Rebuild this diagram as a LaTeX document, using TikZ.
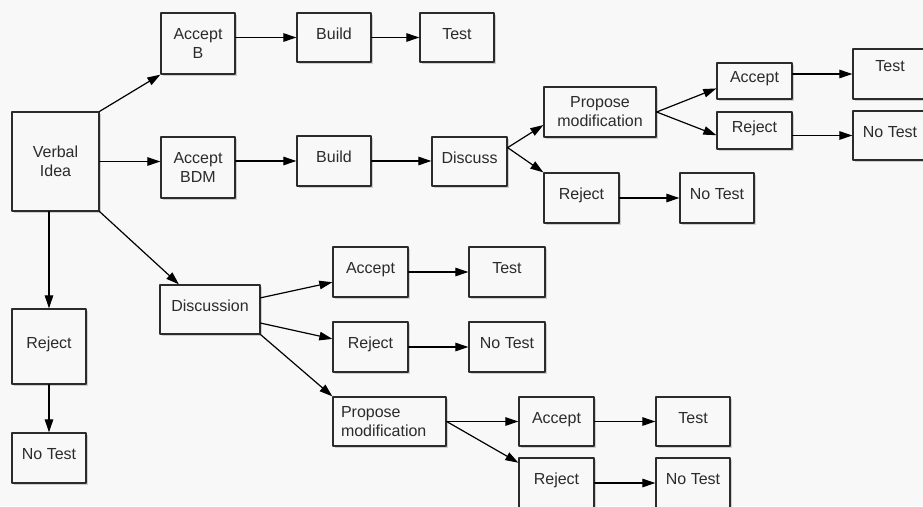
\documentclass[tikz,border=0pt]{standalone}
\usepackage{fontspec}
\setmainfont{Liberation Sans}
\usetikzlibrary{arrows.meta,shadows}
\definecolor{paper}{HTML}{F8F8F8}
\definecolor{ink}{HTML}{2B2B2B}
\begin{document}
\begin{tikzpicture}[x=1pt, y=-1pt, line cap=round, line join=round,
    box/.style={draw=ink, line width=1.3pt, fill=paper, text=ink,
      font=\fontsize{16}{19}\selectfont, inner sep=2pt,
      text height=11.5pt, text depth=8pt,
      drop shadow={shadow xshift=2pt, shadow yshift=-2pt, opacity=0.35}},
    sz/.style 2 args={minimum width=#1pt, minimum height=#2pt},
    two/.style={text height={}, text depth={}, align=center},
    link/.style={line width=1.2pt, -{Triangle[length=13pt,width=8.5pt]}}]
  \fill[paper] (0,0) rectangle (923,506);
  \useasboundingbox (0,0) rectangle (923,506);
  \clip (0,0) rectangle (923,506);

  \node[box, two, sz={87}{99}] (vi) at (55.5,161.5) {Verbal\\Idea};

  \node[box, two, sz={74}{61}] (ab) at (198,43.5) {Accept\\B};
  \node[box, sz={74}{49}] (bld1) at (334,37.5) {Build};
  \node[box, sz={74}{49}] (tst1) at (457,37.5) {Test};

  \node[box, two, sz={74}{61}] (abd) at (198,167.5) {Accept\\BDM};
  \node[box, sz={74}{50}] (bld2) at (334,161) {Build};
  \node[box, sz={75}{49}] (dsc) at (469.5,161.5) {Discuss};
  \node[box, two, sz={112}{50}] (pm1) at (600,112) {Propose\\modification};
  \node[box, sz={75}{50}] (rj1) at (581.5,198) {Reject};
  \node[box, sz={74}{50}] (nt1) at (717,198) {No Test};
  \node[box, sz={75}{36}] (ac2) at (754.5,81) {Accept};
  \node[box, sz={75}{37}] (rj2) at (754.5,130.5) {Reject};
  \node[box, sz={74}{50}, text depth=17pt] (tst2) at (890,74) {Test};
  \node[box, sz={74}{49}] (nt2) at (890,135.5) {No Test};

  \node[box, sz={74}{75}] (rjl) at (49,346.5) {Reject};
  \node[box, sz={74}{50}] (ntl) at (49,458) {No Test};

  \node[box, sz={100}{49}] (disc) at (210,309.5) {Discussion};
  \node[box, sz={75}{50}] (ac3) at (370.5,272) {Accept};
  \node[box, sz={76}{50}] (tst3) at (507,272) {Test};
  \node[box, sz={75}{50}] (rj3) at (370.5,347) {Reject};
  \node[box, sz={76}{50}] (nt3) at (507,347) {No Test};
  \node[box, sz={113}{49}, text height={}, text depth={}, text width=97pt,
    align=left, inner xsep=8pt] (pm2) at (389.5,421.5) {Propose\\modification};
  \node[box, sz={75}{49}] (ac4) at (556.5,421.5) {Accept};
  \node[box, sz={74}{49}] (tst4) at (693,421.5) {Test};
  \node[box, sz={75}{50}] (rj4) at (556.5,483) {Reject};
  \node[box, sz={74}{50}] (nt4) at (693,483) {No Test};

  \draw[link] (vi.north east) -- (ab.south west);
  \draw[link] (vi.east) -- (vi.east -| abd.west);
  \draw[link] (vi.south east) -- (disc.141);
  \draw[link] (vi.south -| rjl.north) -- (rjl.north);
  \draw[link] (rjl) -- (ntl);

  \draw[link] (ab.east |- bld1.west) -- (bld1.west);
  \draw[link] (bld1) -- (tst1);

  \draw[link] (abd.east |- bld2.west) -- (bld2.west);
  \draw[link] (bld2.east) -- (bld2.east -| dsc.west);
  \draw[link] (dsc.20) -- (pm1.193);
  \draw[link] (dsc.20) -- (rj1.north west);
  \draw[link] (rj1) -- (nt1);
  \draw[link] (pm1.east) -- (ac2.191);
  \draw[link] (pm1.east) -- (rj2.187);
  \draw[link] (ac2.east |- tst2.west) -- (tst2.west);
  \draw[link] (rj2.east |- nt2.west) -- (nt2.west);

  \draw[link] (disc.13) -- (ac3.195);
  \draw[link] (disc.-15) -- (rj3.168);
  \draw[link] (disc.south east) -- (pm2.north west);
  \draw[link] (ac3) -- (tst3);
  \draw[link] (rj3) -- (nt3);
  \draw[link] (pm2.east) -- (pm2.east -| ac4.west);
  \draw[link] (pm2.east) -- (rj4.152);
  \draw[link] (ac4) -- (tst4);
  \draw[link] (rj4) -- (nt4);
\end{tikzpicture}
\end{document}
